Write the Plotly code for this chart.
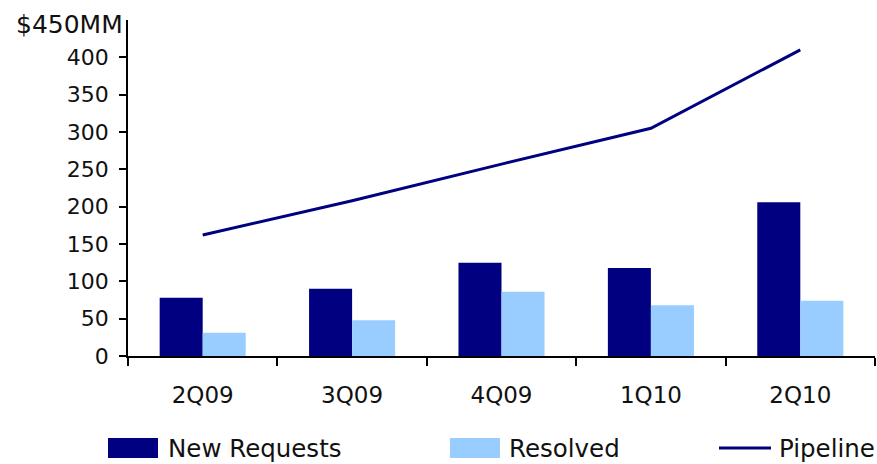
import plotly.graph_objects as go

# Quarterly figures, $MM
quarters = ["2Q09", "3Q09", "4Q09", "1Q10", "2Q10"]
new_requests = [78, 90, 125, 118, 206]
resolved = [31, 48, 86, 68, 74]
pipeline = [162, 208, 257, 305, 410]
y_ticks = [0, 50, 100, 150, 200, 250, 300, 350, 400]

NAVY = "#000080"
LIGHT = "#99CCFF"
FONT = "DejaVu Sans"
TEXT = "#111111"

W, H = 877, 464
ML, MR, MT, MB = 128, 2, 20, 108
PW, PH = W - ML - MR, H - MT - MB


def px_x(px):
    return (px - ML) / PW


def px_y(py):
    return (H - MB - py) / PH


fig = go.Figure()
fig.add_trace(go.Bar(x=quarters, y=new_requests, name="New Requests",
                     marker=dict(color=NAVY, line=dict(width=0)), showlegend=False))
fig.add_trace(go.Bar(x=quarters, y=resolved, name="Resolved",
                     marker=dict(color=LIGHT, line=dict(width=0)), showlegend=False))
fig.add_trace(go.Scatter(x=quarters, y=pipeline, name="Pipeline", mode="lines",
                         line=dict(color=NAVY, width=3), showlegend=False))

fig.update_layout(
    width=W, height=H,
    margin=dict(l=ML, r=MR, t=MT, b=MB),
    paper_bgcolor="white", plot_bgcolor="white",
    barmode="group", bargap=0.424, bargroupgap=0,
    font=dict(family=FONT, color=TEXT),
    xaxis=dict(
        showline=True, linecolor="black", linewidth=1.5,
        ticks="outside", tickson="boundaries", ticklen=8, tickwidth=1.5,
        tickcolor="black", showgrid=False, zeroline=False,
        tickfont=dict(size=23, family=FONT, color=TEXT), ticklabelstandoff=18,
    ),
    yaxis=dict(
        range=[0, 450], showline=True, linecolor="black", linewidth=1.5,
        ticks="outside", ticklen=7, tickwidth=1.5, tickcolor="black",
        tickvals=y_ticks, ticktext=[str(v) for v in y_ticks],
        showgrid=False, zeroline=False,
        tickfont=dict(size=22, family=FONT, color=TEXT), ticklabelstandoff=6,
    ),
)

# Axis top label
fig.add_annotation(text="$450MM", xref="paper", yref="paper",
                   x=px_x(125), y=px_y(25), xanchor="right", yanchor="middle",
                   showarrow=False, font=dict(size=25, family=FONT, color=TEXT))

# Legend row
legend_y = 448
legend_font = dict(size=24.5, family=FONT, color=TEXT)
for x0, x1, color, label, tx in [(108, 158, NAVY, "New Requests", 166),
                                 (450, 500, LIGHT, "Resolved", 507)]:
    fig.add_shape(type="rect", xref="paper", yref="paper",
                  x0=px_x(x0), x1=px_x(x1), y0=px_y(438), y1=px_y(458),
                  fillcolor=color, line=dict(width=0))
    fig.add_annotation(text=label, xref="paper", yref="paper",
                       x=px_x(tx), y=px_y(legend_y), xanchor="left", yanchor="middle",
                       showarrow=False, font=legend_font)

fig.add_shape(type="line", xref="paper", yref="paper",
              x0=px_x(719), x1=px_x(771), y0=px_y(legend_y), y1=px_y(legend_y),
              line=dict(color=NAVY, width=3))
fig.add_annotation(text="Pipeline", xref="paper", yref="paper",
                   x=px_x(777), y=px_y(legend_y), xanchor="left", yanchor="middle",
                   showarrow=False, font=legend_font)

fig.write_html("out.html")
